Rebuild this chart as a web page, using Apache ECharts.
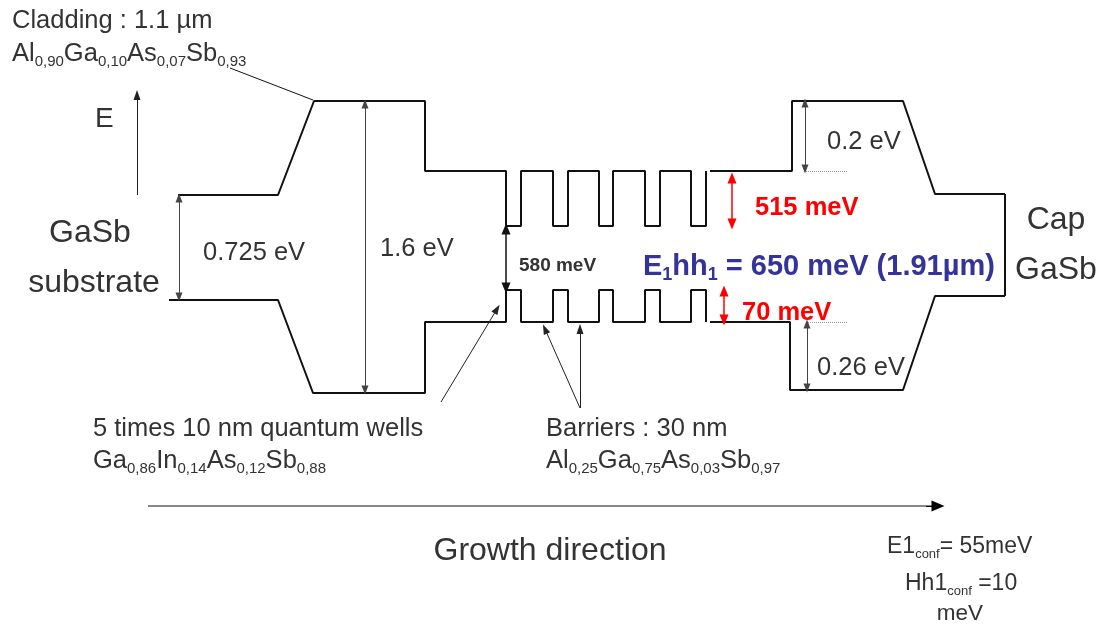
<!DOCTYPE html>
<html>
<head>
<meta charset="utf-8">
<script src="https://cdn.jsdelivr.net/npm/echarts@6/dist/echarts.min.js"></script>
<style>
  html, body { margin: 0; background: #fff; }
  #chart { width: 1107px; height: 629px; }
</style>
</head>
<body>
<div id="chart"></div>
<script>
// Band diagram: x = growth position, y = energy level (drawing units, downward).
// Not to scale, so both axes are plain drawing units.

const conductionLeft = [[178, 195], [278, 195], [314, 101], [425, 101], [425, 171]];
const valenceLeft = [[169, 300], [278, 300], [313, 393], [425, 393], [425, 322]];
const conductionRight = [[710, 171], [792, 171], [792, 101], [903, 101], [935, 194], [1005, 194]];
const capBracket = [[1005, 194], [1005, 296]];
const valenceRight = [[1005, 296], [935, 296], [903, 390], [790, 390], [790, 322], [710, 322]];

// five quantum wells
const wellStart = [506, 553, 599, 645, 691];
const wellEnd = [521, 568, 613, 660, 706];
const cbBarrier = 171, cbWell = 226;
const vbBarrier = 322, vbWell = 290;

// two-headed arrows between levels
const gapArrows = [
  [[179, 198], [179, 297]],   // 0.725 eV
  [[365, 104], [365, 390]],   // 1.6 eV
  [[805, 103], [805, 169]],   // 0.2 eV
  [[807, 324], [807, 388]]    // 0.26 eV
];
const wellGapArrow = [[[506, 229], [506, 288]]];   // 580 meV
const offsetArrows = [
  [[732, 178], [732, 224]],   // 515 meV
  [[724, 291], [724, 320]]    // 70 meV
];
// one-headed pointers [from, to]
const pointers = [
  [[441, 402], [497, 309]],   // quantum wells
  [[580, 408], [545, 329]],   // barriers
  [[580, 408], [580, 329]],
  [[137, 195], [137, 95]]     // E axis
];
const cladLeader = [[230, 68], [313, 100]];
const growthShaft = [[148, 506], [933, 506]];
const growthHead = [[926, 506], [938, 506]];
const refLines = [[[806, 171], [848, 171]], [[806, 322], [847, 322]]];

// formulas as [element, fraction]
const cladFormula = [['Al', '0,90'], ['Ga', '0,10'], ['As', '0,07'], ['Sb', '0,93']];
const wellFormula = [['Ga', '0,86'], ['In', '0,14'], ['As', '0,12'], ['Sb', '0,88']];
const barrierFormula = [['Al', '0,25'], ['Ga', '0,75'], ['As', '0,03'], ['Sb', '0,97']];

function wellProfile(top, bottom) {
  const pts = [];
  wellStart.forEach((s, i) => {
    pts.push([s, top], [s, bottom], [wellEnd[i], bottom], [wellEnd[i], top]);
  });
  return pts;
}
const conduction = conductionLeft.concat(wellProfile(cbBarrier, cbWell));
const valence = valenceLeft.concat([[503, vbBarrier]], wellProfile(vbBarrier, vbWell));

const FONT = '"Liberation Sans", Arial, sans-serif';
const GREY = '#333';
const BLUE = '#333399';

function band(data) {
  return {
    type: 'line', data: data, symbol: 'none', silent: true, animation: false,
    lineStyle: { color: '#111', width: 2 }
  };
}
function arrows(pairs, color, width, both, size) {
  return {
    type: 'line', data: [], symbol: 'none', silent: true, animation: false,
    markLine: {
      silent: true, animation: false,
      symbol: [both ? 'triangle' : 'none', 'triangle'],
      symbolSize: size,
      label: { show: false },
      emphasis: { disabled: true },
      lineStyle: { color: color, width: width, type: 'solid' },
      data: pairs.map(p => [{ coord: p[0] }, { coord: p[1] }])
    }
  };
}
function plainLines(pairs, color, width, type) {
  const s = arrows(pairs, color, width, false, 0);
  s.markLine.symbol = 'none';
  s.markLine.lineStyle.type = type || 'solid';
  return s;
}

function formulaText(parts) {
  return parts.map(p => '{m|' + p[0] + '}{s|' + p[1] + '}').join('');
}
function subRich(main, sub, bold, color) {
  const w = bold ? 'bold' : 'normal';
  return {
    m: { fontSize: main, fontWeight: w, fontFamily: FONT, fill: color, lineHeight: Math.round(main * 1.2) },
    s: { fontSize: sub, fontWeight: w, fontFamily: FONT, fill: color, lineHeight: Math.round(main * 0.3), verticalAlign: 'bottom' }
  };
}

function txt(x, y, text, size, opts) {
  opts = opts || {};
  return {
    type: 'text', x: x, y: y + 2, silent: true,
    style: {
      text: text, fontFamily: FONT, fontSize: size,
      fontWeight: opts.bold ? 'bold' : 'normal',
      fill: opts.color || GREY,
      align: opts.align || 'left', verticalAlign: 'middle',
      rich: opts.rich
    }
  };
}

const chart = echarts.init(document.getElementById('chart'), null, { renderer: 'canvas' });
chart.setOption({
  backgroundColor: '#fff',
  animation: false,
  grid: { left: 0, top: 0, right: 0, bottom: 0 },
  xAxis: { type: 'value', min: 0, max: 1107, show: false },
  yAxis: { type: 'value', min: 0, max: 629, inverse: true, show: false },
  series: [
    band(conduction),
    band(conductionRight),
    band(capBracket),
    band(valence),
    band(valenceRight),
    plainLines([cladLeader], '#111', 1),
    plainLines(refLines, '#999', 1, 'dotted'),
    arrows(gapArrows, '#444', 1, true, [7, 9]),
    arrows(wellGapArrow, '#111', 1.5, true, [9, 11]),
    arrows(offsetArrows, '#f00', 1.5, true, [9, 11]),
    arrows(pointers, '#222', 1, false, [7, 10]),
    plainLines([growthShaft], '#888', 2),
    arrows([growthHead], '#000', 1, false, [11, 13])
  ],
  graphic: [
    txt(12, 19, 'Cladding : 1.1 µm', 25.5),
    txt(12, 52, formulaText(cladFormula), 25.5, { rich: subRich(25.5, 15, false, GREY) }),
    txt(95, 117, 'E', 28),
    txt(90, 231, 'GaSb', 32, { align: 'center' }),
    txt(94, 281, 'substrate', 32, { align: 'center' }),
    txt(203, 251, '0.725 eV', 25.5),
    txt(380, 247, '1.6 eV', 25.5),
    txt(519, 264, '580 meV', 19, { bold: true }),
    txt(643, 265, '{m|E}{s|1}{m|hh}{s|1}{m| = 650 meV (1.91µm)}', 29, {
      rich: subRich(29, 18, true, BLUE)
    }),
    txt(755, 206, '515 meV', 25.5, { bold: true, color: '#f00' }),
    txt(742, 311, '70 meV', 25.5, { bold: true, color: '#f00' }),
    txt(827, 140, '0.2 eV', 25.5),
    txt(817, 366, '0.26 eV', 25.5),
    txt(1056, 218, 'Cap', 32, { align: 'center' }),
    txt(1056, 268, 'GaSb', 32, { align: 'center' }),
    txt(93, 427, '5 times 10 nm quantum wells', 25.5),
    txt(93, 459, formulaText(wellFormula), 25.5, { rich: subRich(25.5, 15, false, GREY) }),
    txt(546, 427, 'Barriers : 30 nm', 25.5),
    txt(546, 459, formulaText(barrierFormula), 25.5, { rich: subRich(25.5, 15, false, GREY) }),
    txt(550, 549, 'Growth direction', 32, { align: 'center' }),
    txt(887, 545, '{m|E1}{s|conf}{m|= 55meV}', 23, { rich: subRich(23, 13, false, GREY) }),
    txt(905, 582, '{m|Hh1}{s|conf}{m| =10}', 23, { rich: subRich(23, 13, false, GREY) }),
    txt(960, 612, 'meV', 22.5, { align: 'center' })
  ]
});
</script>
</body>
</html>
